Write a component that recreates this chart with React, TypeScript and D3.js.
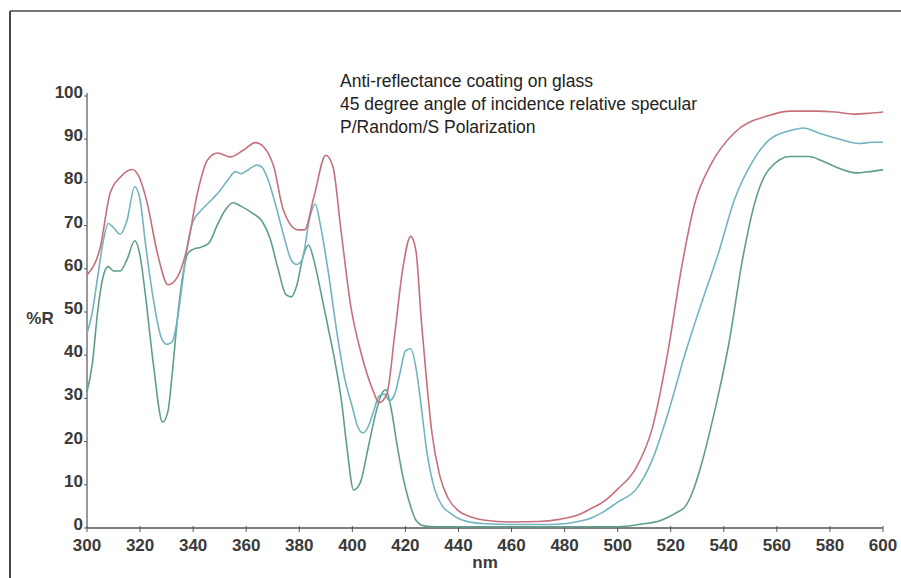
import * as d3 from 'd3';

// wavelength (nm) / %R, one pair of arrays per curve
const pNm = [300, 305, 308.7, 312.5, 317, 319.3, 322.7, 326.5, 330.6, 334, 337.8, 341.6, 345.4, 349.2, 354, 359, 363.5, 366.6, 370.4, 374, 379.5, 382, 385.5, 390, 392.7, 395.7, 399.5, 403.3, 408, 410, 413, 416, 419, 422, 424, 426, 428, 430, 433, 436, 440, 445, 450, 460, 470, 478, 485, 490, 494, 500, 507, 513, 519, 524, 529, 535, 544, 557, 565, 575, 582, 589, 595, 600];
const pR = [58.6, 65, 77.5, 81.2, 83, 81.7, 75.2, 63.7, 56.3, 58, 65, 77.5, 85.2, 86.8, 85.9, 87.5, 89.2, 88.2, 83.6, 73.6, 69, 69, 76.6, 86.3, 83.6, 69, 51, 40.5, 31.5, 29, 31, 45, 60, 67.5, 64, 48, 34, 22, 12, 7, 4, 2.5, 1.8, 1.4, 1.5, 2, 3, 4.5, 5.8, 9, 14, 23, 41, 60, 75, 84, 91.5, 95.5, 96.5, 96.5, 96.3, 95.8, 96, 96.3];

const randNm = [300, 302, 304, 306, 308, 310, 312.5, 315, 318, 320, 322, 325, 328, 330, 332, 334, 336, 338, 340, 343, 347, 350, 353, 356, 358, 361, 364, 366, 368, 371, 374, 377, 379, 381, 384, 386, 388, 391, 394, 397, 400, 402, 404, 406, 408, 410, 412, 414, 416, 418, 420, 422, 424, 426, 428, 431, 434, 437, 440, 445, 450, 460, 470, 480, 486, 490, 494, 500, 507, 513, 519, 525.5, 532, 538, 544, 551, 557, 565, 570, 576, 582, 591, 596, 600];
const randR = [45, 50, 58, 66, 70.5, 69.5, 68, 71, 79, 76, 66, 53, 44, 42.5, 43, 48, 57, 66, 71, 73.5, 76, 78, 80.5, 82.5, 82, 83, 84, 83.5, 81, 75, 68, 62, 61, 62, 72, 75, 70, 59, 46, 35, 28, 23.5, 22, 23.5, 27, 30.5, 31, 29.5, 31, 36, 41, 41.5, 37, 28, 18, 9, 5, 3.4, 2.2, 1.3, 1, 0.8, 0.8, 1, 1.6, 2.3, 3.5, 6, 9, 15.7, 26.6, 40.5, 52.8, 63.7, 76, 85, 89.8, 92, 92.6, 91.4, 90.3, 89, 89.3, 89.3];

const sNm = [300, 302, 304, 306, 308, 310, 312.5, 315, 318, 320, 322, 325, 328.5, 330.5, 332, 334, 336, 338, 340, 343, 346, 349, 352, 355, 358, 362, 366, 369, 372, 375, 377, 379, 381.5, 383.5, 385.5, 388, 391, 393, 396, 398, 400.5, 403, 406, 409, 411, 412.7, 414.5, 417, 419, 421, 424, 427, 432, 450, 480, 500, 510, 515, 519, 522, 525.5, 528, 532, 535, 538, 542, 547, 552, 557, 565, 572, 577, 582, 590, 595, 600];
const sR = [31.5, 38, 50, 58, 60.5, 59.5, 59.5, 62, 66.5, 63, 54, 38, 24.5, 27, 35, 48, 58, 63.5, 64.5, 65, 66, 70, 73.5, 75.3, 74.5, 73, 71, 67, 60, 54, 53.5, 56, 63, 65.5, 62, 55, 46, 40, 29, 18.5, 8.8, 10.5, 18.7, 27, 31, 32, 28, 18.7, 12, 7, 1.8, 0.5, 0.3, 0.3, 0.3, 0.3, 1, 1.5, 2.5, 3.5, 5, 8, 15.7, 23, 31, 43, 62, 76, 83, 86, 86, 85, 83.6, 82.2, 82.5, 82.9];

const xTicks = [300, 320, 340, 360, 380, 400, 420, 440, 460, 480, 500, 520, 540, 560, 580, 600];
const yTicks = [0, 10, 20, 30, 40, 50, 60, 70, 80, 90, 100];
const notes = [
  'Anti-reflectance coating on glass',
  '45 degree angle of incidence relative specular',
  'P/Random/S Polarization',
];

const series = [
  { nm: sNm, r: sR, color: '#5f9e8e' },
  { nm: randNm, r: randR, color: '#72b4bf' },
  { nm: pNm, r: pR, color: '#c6707c' },
];

export default function App() {
  const W = 901;
  const H = 578;
  const x = d3.scaleLinear().domain([300, 600]).range([87, 883]);
  const y = d3.scaleLinear().domain([0, 100]).range([528, 96]);

  const line = (nm: number[], r: number[]) =>
    d3
      .line<number>()
      .x((_, i) => x(nm[i]))
      .y((d) => y(d))
      .curve(d3.curveMonotoneX)(r) || '';

  const labelFont = {
    fontFamily: '"Liberation Sans", Arial, sans-serif',
    fontSize: 17,
    fontWeight: 700,
    fill: '#3a3a3a',
  };

  return (
    <svg
      width={W}
      height={H}
      style={{ position: 'absolute', left: 0, top: 0, background: '#fff' }}
    >
      {/* frame */}
      <line x1={10} y1={11} x2={W} y2={11} stroke="#4a4a4a" strokeWidth={1.5} />
      <line x1={10} y1={11} x2={10} y2={H} stroke="#4a4a4a" strokeWidth={2} />

      {/* axes */}
      <line x1={x(300)} y1={y(100) - 3} x2={x(300)} y2={y(0)} stroke="#555" strokeWidth={1.2} />
      <line x1={x(300)} y1={y(0)} x2={x(600)} y2={y(0)} stroke="#555" strokeWidth={1.4} />

      {yTicks.map((t) => (
        <g key={'y' + t}>
          <line x1={x(300) - 3} x2={x(300)} y1={y(t)} y2={y(t)} stroke="#555" />
          <text x={x(300) - 4} y={y(t) + 2} textAnchor="end" {...labelFont}>
            {t}
          </text>
        </g>
      ))}

      {xTicks.map((t) => (
        <g key={'x' + t}>
          <line x1={x(t)} x2={x(t)} y1={y(0) - 2} y2={y(0) + 4} stroke="#555" />
          <text x={x(t)} y={551} textAnchor="middle" {...labelFont}>
            {t}
          </text>
        </g>
      ))}

      <text x={40} y={324} textAnchor="middle" {...labelFont}>
        %R
      </text>
      <text x={485} y={568} textAnchor="middle" {...labelFont}>
        nm
      </text>

      {notes.map((n, i) => (
        <text
          key={n}
          x={340}
          y={86.5 + i * 23}
          fontFamily='"Liberation Sans", Arial, sans-serif'
          fontSize={17.5}
          fill="#222"
        >
          {n}
        </text>
      ))}

      {series.map((s, i) => (
        <path
          key={i}
          d={line(s.nm, s.r)}
          fill="none"
          stroke={s.color}
          strokeWidth={1.6}
          strokeLinejoin="round"
        />
      ))}
    </svg>
  );
}
